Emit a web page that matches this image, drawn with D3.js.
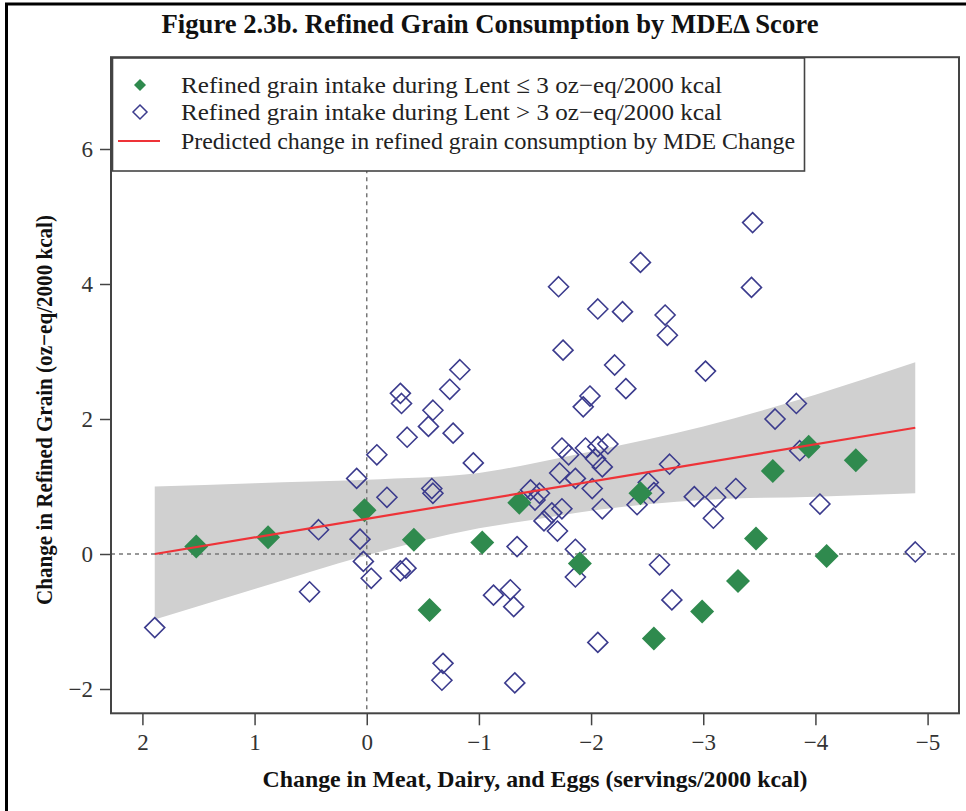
<!DOCTYPE html>
<html>
<head>
<meta charset="utf-8">
<script src="https://cdn.jsdelivr.net/npm/d3@7"></script>
<style>
  html, body { margin: 0; padding: 0; background: #fff; }
  svg { display: block; }
  text { font-family: "Liberation Serif", "Times New Roman", serif; }
</style>
</head>
<body>
<svg id="chart" width="966" height="811"></svg>
<script>
// Participants whose refined grain intake during Lent was <= 3 oz-eq/2000 kcal
// [change in MDE servings, change in refined grain]
const lowIntake = [
  [1.52, 0.11], [0.88, 0.25], [0.02, 0.65], [-0.42, 0.21], [-0.56, -0.83],
  [-1.03, 0.17], [-1.36, 0.76], [-1.90, -0.14], [-2.44, 0.90], [-2.56, -1.25],
  [-2.99, -0.85], [-3.31, -0.40], [-3.47, 0.23], [-3.62, 1.23], [-3.94, 1.59],
  [-4.10, -0.03], [-4.36, 1.39]
];

// Participants whose refined grain intake during Lent was > 3 oz-eq/2000 kcal
const highIntake = [
  [1.89, -1.09], [0.51, -0.56], [0.43, 0.36], [0.09, 1.12], [0.06, 0.22],
  [0.03, -0.11], [-0.04, -0.36], [-0.09, 1.47], [-0.18, 0.84], [-0.30, 2.38],
  [-0.31, 2.23], [-0.36, 1.73], [-0.30, -0.25], [-0.35, -0.21], [-0.55, 1.89],
  [-0.59, 2.13], [-0.58, 0.97], [-0.59, 0.90], [-0.74, 2.44], [-0.83, 2.73],
  [-0.77, 1.79], [-0.68, -1.62], [-0.67, -1.87], [-0.95, 1.35], [-1.13, -0.61],
  [-1.28, -0.53], [-1.31, -0.78], [-1.34, 0.11], [-1.32, -1.91], [-1.46, 0.95],
  [-1.50, 0.80], [-1.54, 0.90], [-1.74, 1.57], [-1.80, 1.47], [-1.95, 1.57],
  [-2.06, 1.59], [-2.15, 1.63], [-2.04, 1.41], [-2.10, 1.29], [-1.72, 1.20],
  [-1.86, 1.12], [-2.01, 0.97], [-1.58, 0.49], [-1.65, 0.61], [-1.74, 0.67],
  [-1.70, 0.34], [-2.10, 0.67], [-1.86, 0.07], [-1.86, -0.34], [-2.51, 1.06],
  [-2.56, 0.91], [-2.41, 0.73], [-2.61, -0.16], [-2.72, -0.68], [-2.06, -1.31],
  [-2.70, 1.33], [-2.92, 0.85], [-3.11, 0.84], [-3.09, 0.53], [-3.29, 0.97],
  [-2.44, 4.32], [-1.71, 3.96], [-2.06, 3.63], [-2.28, 3.59], [-2.66, 3.54],
  [-2.68, 3.24], [-1.75, 3.02], [-2.21, 2.80], [-2.31, 2.45], [-1.99, 2.34],
  [-1.93, 2.18], [-3.44, 4.91], [-3.43, 3.95], [-3.02, 2.71], [-3.83, 2.23],
  [-3.64, 2.00], [-3.86, 1.53], [-4.04, 0.74], [-4.89, 0.03]
];

// Fitted regression line and its confidence band
const fitX = [1.89, -4.89];
const fitY = [0.00, 1.87];
const bandX  = [1.89, 1.0, 0.0, -1.0, -1.5, -2.0, -3.0, -4.0, -4.89];
const bandLo = [-0.97, -0.52, -0.02, 0.38, 0.51, 0.64, 0.80, 0.85, 0.90];
const bandHi = [1.00, 1.05, 1.10, 1.20, 1.35, 1.52, 1.89, 2.36, 2.84];

const xTicks = [2, 1, 0, -1, -2, -3, -4, -5];
const yTicks = [-2, 0, 2, 4, 6];

const titleText = "Figure 2.3b. Refined Grain Consumption by MDE\u0394 Score";
const xTitle = "Change in Meat, Dairy, and Eggs (servings/2000 kcal)";
const yTitle = "Change in Refined Grain (oz\u2212eq/2000 kcal)";
const legendLabels = [
  "Refined grain intake during Lent \u2264 3 oz\u2212eq/2000 kcal",
  "Refined grain intake during Lent > 3 oz\u2212eq/2000 kcal",
  "Predicted change in refined grain consumption by MDE Change"
];

// ---- layout ----
const box = { left: 111, right: 959, top: 57.2, bottom: 713.3 };
const svg = d3.select("#chart");

const x = d3.scaleLinear().domain([2.28, -5.28]).range([box.left, box.right]);
const y = d3.scaleLinear().domain([-2.36, 7.36]).range([box.bottom, box.top]);

const navy = "#3b3b8d";
const green = "#2f8a4e";
const red = "#ee3338";
const grey = "#d0d0d0";
const axisColor = "#444";

// outer frame (top and left rules)
svg.append("line").attr("x1", 5).attr("x2", 966).attr("y1", 4).attr("y2", 4)
  .attr("stroke", "#000").attr("stroke-width", 3);
svg.append("line").attr("x1", 6.5).attr("x2", 6.5).attr("y1", 3).attr("y2", 811)
  .attr("stroke", "#000").attr("stroke-width", 3);

// title
svg.append("text")
  .attr("x", 490).attr("y", 33)
  .attr("text-anchor", "middle")
  .attr("font-size", 28).attr("font-weight", "bold")
  .attr("fill", "#111")
  .attr("textLength", 657).attr("lengthAdjust", "spacingAndGlyphs")
  .text(titleText);

// confidence band
const bandData = bandX.map((v, i) => ({ x: v, lo: bandLo[i], hi: bandHi[i] }));
svg.append("path")
  .datum(bandData)
  .attr("fill", grey)
  .attr("d", d3.area()
    .x(d => x(d.x)).y0(d => y(d.lo)).y1(d => y(d.hi))
    .curve(d3.curveMonotoneX));

// reference lines at zero
svg.append("line")
  .attr("x1", box.left).attr("x2", box.right)
  .attr("y1", y(0)).attr("y2", y(0))
  .attr("stroke", "#777").attr("stroke-width", 1.5).attr("stroke-dasharray", "4,4");
svg.append("line")
  .attr("x1", x(0)).attr("x2", x(0))
  .attr("y1", box.top).attr("y2", box.bottom)
  .attr("stroke", "#777").attr("stroke-width", 1.5).attr("stroke-dasharray", "4,4");

// diamond path helper
const diamond = r => `M0,${-r}L${r},0L0,${r}L${-r},0Z`;

// points: high-intake (open) then low-intake (filled)
svg.append("g").selectAll("path")
  .data(highIntake).join("path")
  .attr("transform", d => `translate(${x(d[0])},${y(d[1])})`)
  .attr("d", diamond(10))
  .attr("fill", "none")
  .attr("stroke", navy).attr("stroke-width", 1.6);

svg.append("g").selectAll("path")
  .data(lowIntake).join("path")
  .attr("transform", d => `translate(${x(d[0])},${y(d[1])})`)
  .attr("d", diamond(12))
  .attr("fill", green);

// regression line
svg.append("path")
  .datum(fitX.map((v, i) => [v, fitY[i]]))
  .attr("fill", "none").attr("stroke", red).attr("stroke-width", 2.2)
  .attr("d", d3.line().x(d => x(d[0])).y(d => y(d[1])));

// plot box
svg.append("rect")
  .attr("x", box.left).attr("y", box.top)
  .attr("width", box.right - box.left).attr("height", box.bottom - box.top)
  .attr("fill", "none").attr("stroke", axisColor).attr("stroke-width", 2);

// axes
const minusFmt = d => d < 0 ? "\u2212" + Math.abs(d) : d;
const xAxis = svg.append("g")
  .attr("transform", `translate(0,${box.bottom})`)
  .call(d3.axisBottom(x).tickValues(xTicks).tickSize(12).tickPadding(8).tickFormat(minusFmt));
xAxis.select(".domain").remove();
xAxis.selectAll("line").attr("stroke", axisColor).attr("stroke-width", 1.5);
xAxis.selectAll("text").attr("font-size", 23).attr("fill", "#333")
  .attr("font-family", "Liberation Serif, serif");

const yAxis = svg.append("g")
  .attr("transform", `translate(${box.left},0)`)
  .call(d3.axisLeft(y).tickValues(yTicks).tickSize(11).tickPadding(7).tickFormat(minusFmt));
yAxis.select(".domain").remove();
yAxis.selectAll("line").attr("stroke", axisColor).attr("stroke-width", 1.5);
yAxis.selectAll("text").attr("font-size", 23).attr("fill", "#333")
  .attr("font-family", "Liberation Serif, serif");

// axis titles
svg.append("text")
  .attr("x", 535).attr("y", 787)
  .attr("text-anchor", "middle")
  .attr("font-size", 23).attr("font-weight", "bold").attr("fill", "#111")
  .attr("textLength", 545).attr("lengthAdjust", "spacingAndGlyphs")
  .text(xTitle);

svg.append("text")
  .attr("transform", "translate(52,410) rotate(-90)")
  .attr("text-anchor", "middle")
  .attr("font-size", 23).attr("font-weight", "bold").attr("fill", "#111")
  .attr("textLength", 390).attr("lengthAdjust", "spacingAndGlyphs")
  .text(yTitle);

// legend
const legend = svg.append("g");
legend.append("rect")
  .attr("x", 112.5).attr("y", 58).attr("width", 692).attr("height", 113)
  .attr("fill", "#fff").attr("stroke", axisColor).attr("stroke-width", 1.6);

const rowY = [85, 112, 141];
legend.append("path")
  .attr("transform", `translate(140,${rowY[0]})`)
  .attr("d", diamond(6)).attr("fill", green);
legend.append("path")
  .attr("transform", `translate(140,${rowY[1]})`)
  .attr("d", diamond(7)).attr("fill", "none")
  .attr("stroke", navy).attr("stroke-width", 1.5);
legend.append("line")
  .attr("x1", 118).attr("x2", 160).attr("y1", rowY[2]).attr("y2", rowY[2])
  .attr("stroke", red).attr("stroke-width", 2);

const legendWidths = [541, 541, 614];
legend.selectAll("text.lab")
  .data(legendLabels).join("text")
  .attr("class", "lab")
  .attr("x", 181).attr("y", (d, i) => rowY[i] + 8)
  .attr("font-size", 24).attr("fill", "#222")
  .attr("textLength", (d, i) => legendWidths[i]).attr("lengthAdjust", "spacingAndGlyphs")
  .text(d => d);
</script>
</body>
</html>
